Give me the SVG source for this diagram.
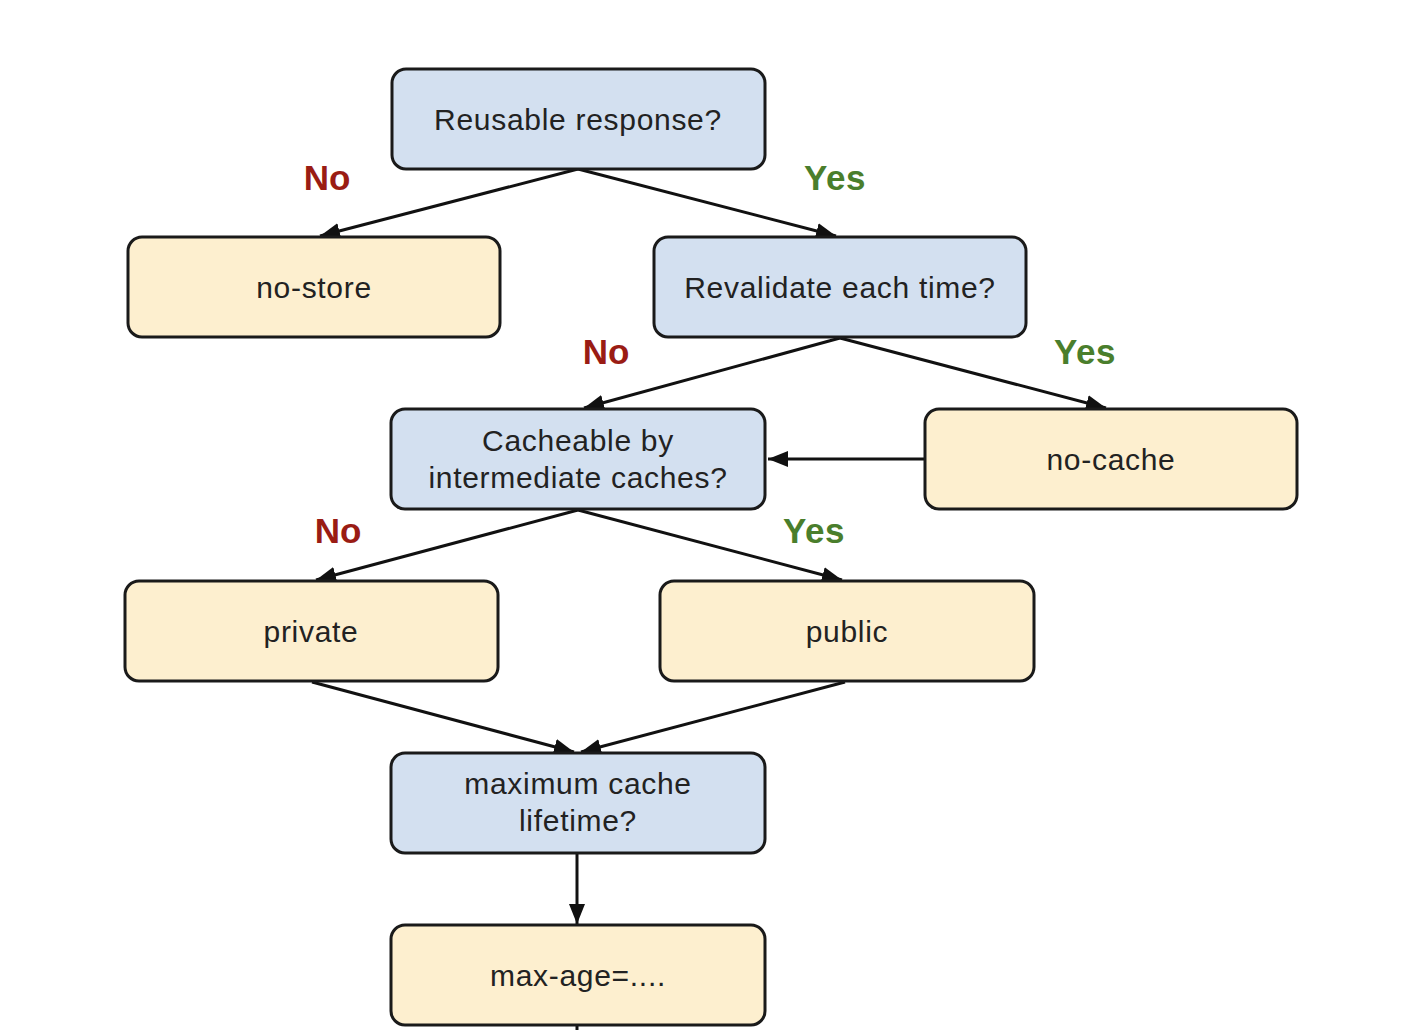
<svg xmlns="http://www.w3.org/2000/svg" width="1404" height="1030" viewBox="0 0 1404 1030">
<style>
.q{fill:#d3e0f0;stroke:#1a1a1a;stroke-width:3}
.a{fill:#fdefcf;stroke:#1a1a1a;stroke-width:3}
.t{font-family:"Liberation Sans",Arial,sans-serif;font-size:30px;fill:#222;text-anchor:middle;letter-spacing:0.7px}
.no{font-family:"Liberation Sans",Arial,sans-serif;font-size:35px;font-weight:bold;fill:#9a1c14;text-anchor:middle}
.yes{font-family:"Liberation Sans",Arial,sans-serif;font-size:35px;font-weight:bold;fill:#4a7e2c;text-anchor:middle;letter-spacing:0.5px}
.c{fill:none;stroke:#111;stroke-width:3;marker-end:url(#ah)}
</style>
<defs>
<marker id="ah" markerUnits="userSpaceOnUse" markerWidth="22" markerHeight="18" refX="20" refY="9" orient="auto">
<path d="M0,1 L20,9 L0,17 Z" fill="#111"/>
</marker>
</defs>
<rect width="1404" height="1030" fill="#fff"/>
<g id="connectors">
<line class="c" x1="578" y1="169" x2="320" y2="236"/>
<line class="c" x1="578" y1="169" x2="836" y2="236"/>
<line class="c" x1="840" y1="338" x2="584" y2="408"/>
<line class="c" x1="840" y1="338" x2="1106" y2="408"/>
<line class="c" x1="924" y1="459" x2="768" y2="459"/>
<line class="c" x1="578" y1="510" x2="316" y2="580"/>
<line class="c" x1="578" y1="510" x2="842" y2="580"/>
<line class="c" x1="312" y1="682" x2="574" y2="752"/>
<line class="c" x1="845" y1="682" x2="581" y2="752"/>
<line class="c" x1="577" y1="854" x2="577" y2="924"/>
<line x1="577" y1="1026" x2="577" y2="1030" stroke="#111" stroke-width="3"/>
</g>
<g id="labels">
<text class="no" x="327" y="190">No</text>
<text class="yes" x="835" y="190">Yes</text>
<text class="no" x="606" y="364">No</text>
<text class="yes" x="1085" y="364">Yes</text>
<text class="no" x="338" y="543">No</text>
<text class="yes" x="814" y="543">Yes</text>
</g>
<g id="n-reusable"><rect class="q" x="392" y="69" width="373" height="100" rx="14"/><text class="t" x="578" y="130">Reusable response?</text></g>
<g id="n-nostore"><rect class="a" x="128" y="237" width="372" height="100" rx="14"/><text class="t" x="314" y="298">no-store</text></g>
<g id="n-revalidate"><rect class="q" x="654" y="237" width="372" height="100" rx="14"/><text class="t" x="840" y="298">Revalidate each time?</text></g>
<g id="n-cacheable"><rect class="q" x="391" y="409" width="374" height="100" rx="14"/><text class="t" x="578" y="451">Cacheable by</text><text class="t" x="578" y="488">intermediate caches?</text></g>
<g id="n-nocache"><rect class="a" x="925" y="409" width="372" height="100" rx="14"/><text class="t" x="1111" y="470">no-cache</text></g>
<g id="n-private"><rect class="a" x="125" y="581" width="373" height="100" rx="14"/><text class="t" x="311" y="642">private</text></g>
<g id="n-public"><rect class="a" x="660" y="581" width="374" height="100" rx="14"/><text class="t" x="847" y="642">public</text></g>
<g id="n-maxlife"><rect class="q" x="391" y="753" width="374" height="100" rx="14"/><text class="t" x="578" y="794">maximum cache</text><text class="t" x="578" y="831">lifetime?</text></g>
<g id="n-maxage"><rect class="a" x="391" y="925" width="374" height="100" rx="14"/><text class="t" x="578" y="986">max-age=....</text></g>
</svg>
